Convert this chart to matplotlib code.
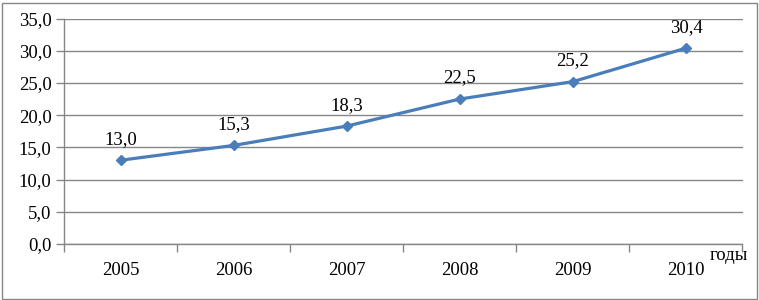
import matplotlib
matplotlib.use('Agg')
import matplotlib.pyplot as plt
from matplotlib.patches import Rectangle
from matplotlib.ticker import FuncFormatter

years = ['2005', '2006', '2007', '2008', '2009', '2010']
values = [13.0, 15.3, 18.3, 22.5, 25.2, 30.4]
y_ticks = [0, 5, 10, 15, 20, 25, 30, 35]

plt.rcParams['font.family'] = ['Liberation Serif', 'DejaVu Serif']
FS = 13.5

W, H = 759, 300
fig = plt.figure(figsize=(W / 100, H / 100), dpi=100)
ax = fig.add_axes([64 / W, 1 - 244 / H, (742.5 - 64) / W, (244 - 18.5) / H])

line_color = '#4A7EBB'
grid_color = '#868686'
x = list(range(len(years)))
ax.plot(x, values, color=line_color, linewidth=2.3, marker='D', markersize=5.5,
        zorder=3)
for xi, v in zip(x, values):
    ax.annotate(f'{v:.1f}'.replace('.', ','), (xi, v), xytext=(0, 9),
                textcoords='offset points', ha='center', va='bottom', fontsize=FS)

ax.set_xlim(-0.5, len(years) - 0.5)
ax.set_ylim(0, 35)
ax.set_yticks(y_ticks)
ax.yaxis.set_major_formatter(FuncFormatter(lambda v, p: f'{v:.1f}'.replace('.', ',')))
ax.set_xticks(x)
ax.set_xticklabels(years)
ax.set_xticks([i - 0.5 for i in range(len(years) + 1)], minor=True)
ax.tick_params(axis='x', which='major', length=0, pad=13, labelsize=FS)
ax.tick_params(axis='x', which='minor', length=6, color=grid_color, width=1)
ax.tick_params(axis='y', length=6, color=grid_color, width=1, labelsize=FS, pad=3)
ax.grid(True, axis='y', color=grid_color, linewidth=1)
for side in ['top', 'right']:
    ax.spines[side].set_visible(False)
for side in ['left', 'bottom']:
    ax.spines[side].set_color(grid_color)
    ax.spines[side].set_linewidth(1)

fig.text(729 / W, 1 - 255 / H, 'годы', ha='center', va='center', fontsize=FS)

fig.patches.append(Rectangle((1.5 / W, 1.5 / H), (W - 3.5) / W, (H - 4) / H,
                             transform=fig.transFigure, fill=False,
                             edgecolor=grid_color, linewidth=1))

fig.savefig('out.png', dpi=100)
